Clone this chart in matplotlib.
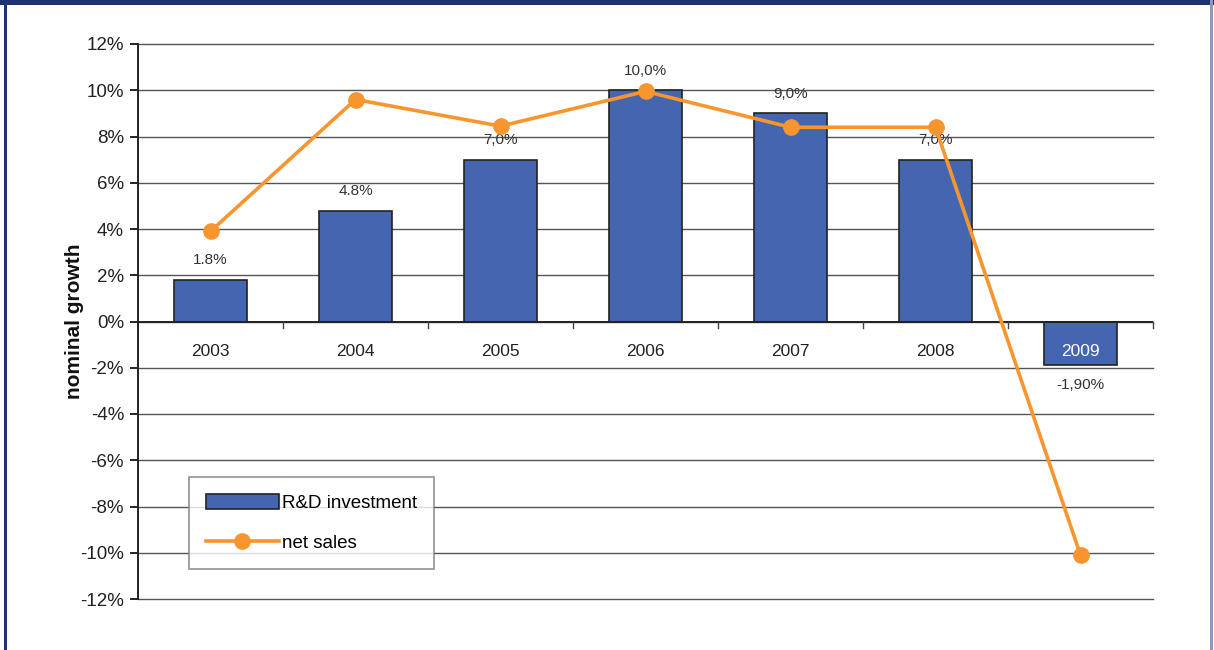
import matplotlib
matplotlib.use("Agg")
import matplotlib.pyplot as plt
from matplotlib.patches import Rectangle
from matplotlib.lines import Line2D

plt.rcParams['font.family'] = ['Liberation Sans', 'DejaVu Sans']

years = ["2003", "2004", "2005", "2006", "2007", "2008", "2009"]
rd_investment = [1.8, 4.8, 7.0, 10.0, 9.0, 7.0, -1.9]
net_sales = [3.9, 9.6, 8.45, 9.95, 8.4, 8.4, -10.1]
bar_labels = ["1.8%", "4.8%", "7,0%", "10,0%", "9,0%", "7,0%", "-1,90%"]
yticks = [-12, -10, -8, -6, -4, -2, 0, 2, 4, 6, 8, 10, 12]

W, H = 1214, 650
fig = plt.figure(figsize=(W / 100, H / 100), dpi=100)
fig.patch.set_facecolor("white")

# frame
fig.add_artist(Rectangle((0, 1 - 5 / H), 1, 5 / H, transform=fig.transFigure,
                         facecolor="#1f3272", edgecolor="none"))
fig.add_artist(Rectangle((4 / W, 0), 3 / W, 1, transform=fig.transFigure,
                         facecolor="#1f3272", edgecolor="none"))
fig.add_artist(Rectangle((1210 / W, 0), 3 / W, 1, transform=fig.transFigure,
                         facecolor="#8e98b8", edgecolor="none"))

left, right, top, bottom = 138, 1153, 44, 599
ax = fig.add_axes([left / W, 1 - bottom / H, (right - left) / W, (bottom - top) / H])

x = list(range(len(years)))
ax.set_xlim(-0.5, len(years) - 0.5)
ax.set_ylim(-12, 12)

for v in yticks:
    ax.axhline(v, color="#555555", lw=1.0, zorder=1, clip_on=False)

ax.bar(x, rd_investment, width=0.5, color="#4466b0", edgecolor="#222222",
       linewidth=1.2, zorder=2)
ax.plot(x, net_sales, color="#f7962f", lw=2.6, marker="o", markersize=11,
        zorder=4)

# data labels
for xi, v, lab in zip(x, rd_investment, bar_labels):
    if v >= 0:
        ax.text(xi, v + 0.55, lab, ha="center", va="bottom", fontsize=11,
                color="#333333", zorder=3)
    else:
        ax.text(xi, v - 0.55, lab, ha="center", va="top", fontsize=11,
                color="#333333", zorder=3)

# category labels near the zero line
for xi, v, yr in zip(x, rd_investment, years):
    col = "white" if v < 0 else "#222222"
    ax.text(xi, -1.3, yr, ha="center", va="center", fontsize=12.5, color=col,
            zorder=5)

# zero axis line with tick marks between categories
ax.axhline(0, color="#222222", lw=1.4, zorder=3)
for b in [i + 0.5 for i in range(len(years))]:
    ax.plot([b, b], [0, -0.3], color="#444444", lw=1.0, zorder=3, clip_on=False)

ax.set_yticks(yticks)
ax.set_yticklabels([f"{v}%" for v in yticks], fontsize=13.5, color="#222222")
ax.set_xticks([])
ax.tick_params(axis="y", direction="out", length=6, width=1.2, pad=4)
for s in ["top", "right", "bottom"]:
    ax.spines[s].set_visible(False)
ax.spines["left"].set_linewidth(1.4)
ax.spines["left"].set_color("#222222")

fig.text(74 / W, 1 - 321 / H, "nominal growth", rotation=90, ha="center",
         va="center", fontsize=15, fontweight="bold", color="#111111")

handles = [
    Rectangle((0, 0), 1, 1, facecolor="#4466b0", edgecolor="#222222", lw=1.2),
    Line2D([0], [0], color="#f7962f", lw=2.6, marker="o", markersize=11),
]
leg = ax.legend(handles, ["R&D investment", "net sales"],
                loc="upper left",
                bbox_to_anchor=((189 - left) / (right - left), 1 - (477 - top) / (bottom - top)),
                fontsize=13.5,
                frameon=True, fancybox=False, edgecolor="#777777",
                handlelength=3.9, handleheight=0.9, borderpad=0.9,
                labelspacing=1.15, handletextpad=0.15, borderaxespad=0)
leg.get_frame().set_linewidth(1.2)
leg.set_zorder(6)

fig.savefig("out.png", dpi=100, facecolor="white")
